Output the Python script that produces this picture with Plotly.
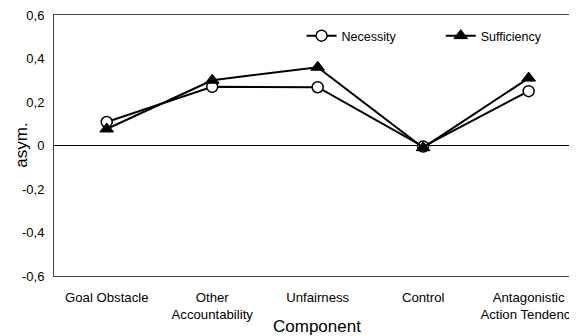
import plotly.graph_objects as go

categories = ["Goal Obstacle", "Other<br>Accountability", "Unfairness", "Control", "Antagonistic<br>Action Tendency"]
necessity = [0.108, 0.27, 0.268, -0.005, 0.25]
sufficiency = [0.076, 0.30, 0.36, -0.01, 0.31]
y_ticks = [-0.6, -0.4, -0.2, 0, 0.2, 0.4, 0.6]
y_tick_labels = ["-0,6", "-0,4", "-0,2", "0", "0,2", "0,4", "0,6"]

FONT = "Liberation Sans, Arial, sans-serif"

# page has an 8px body margin; figure is sized so it fills the 577x336 window
W, H = 569, 328
ML, MT, MB, MR = 46, 7, 60, 0
PW, PH = W - ML - MR, H - MT - MB

def px_x(x):
    return (x - 8 - ML) / PW

def px_y(y):
    return 1 - (y - 8 - MT) / PH

fig = go.Figure()
fig.add_trace(go.Scatter(
    x=list(range(len(categories))), y=necessity, name="Necessity", mode="lines+markers",
    line=dict(color="black", width=2), legend="legend",
    marker=dict(symbol="circle", size=11, color="white", line=dict(color="black", width=1.5)),
))
fig.add_trace(go.Scatter(
    x=list(range(len(categories))), y=sufficiency, name="Sufficiency", mode="lines+markers",
    line=dict(color="black", width=2), legend="legend2",
    marker=dict(symbol="triangle-up", size=12, color="black", line=dict(color="black", width=1)),
))

leg_common = dict(orientation="h", xanchor="left", yanchor="middle",
                  bgcolor="rgba(0,0,0,0)", font=dict(size=12.5), itemwidth=30)

fig.update_layout(
    width=W, height=H,
    margin=dict(l=ML, r=MR, t=MT, b=MB),
    paper_bgcolor="white", plot_bgcolor="white",
    font=dict(family=FONT, size=12, color="black"),
    showlegend=True,
    legend=dict(x=px_x(303), y=px_y(36), **leg_common),
    legend2=dict(x=px_x(443), y=px_y(36), **leg_common),
    xaxis=dict(
        range=[-0.5, 4.43], tickmode="array", tickvals=list(range(len(categories))),
        ticktext=categories, showgrid=False, zeroline=False,
        showline=True, linecolor="#444", linewidth=1, mirror=True,
        ticks="outside", ticklen=9, tickcolor="rgba(0,0,0,0)",
        tickfont=dict(size=13.2), ticklabeloverflow="allow",
    ),
    yaxis=dict(
        range=[-0.6, 0.6], tickmode="array", tickvals=y_ticks, ticktext=y_tick_labels,
        showgrid=False, zeroline=True, zerolinecolor="black", zerolinewidth=1.2,
        showline=True, linecolor="#444", linewidth=1,
        ticks="outside", ticklen=6, tickcolor="rgba(0,0,0,0)",
        tickfont=dict(size=13), ticklabeloverflow="allow",
    ),
    annotations=[
        dict(text="Component", x=px_x(319), xref="paper", y=px_y(326), yref="paper",
             xanchor="center", yanchor="middle", showarrow=False, font=dict(size=17)),
        dict(text="asym.", x=px_x(21), xref="paper", xanchor="center", yanchor="middle",
             y=0.5, yref="paper", textangle=-90, showarrow=False, font=dict(size=17)),
    ],
)

fig.write_html("out.html")
